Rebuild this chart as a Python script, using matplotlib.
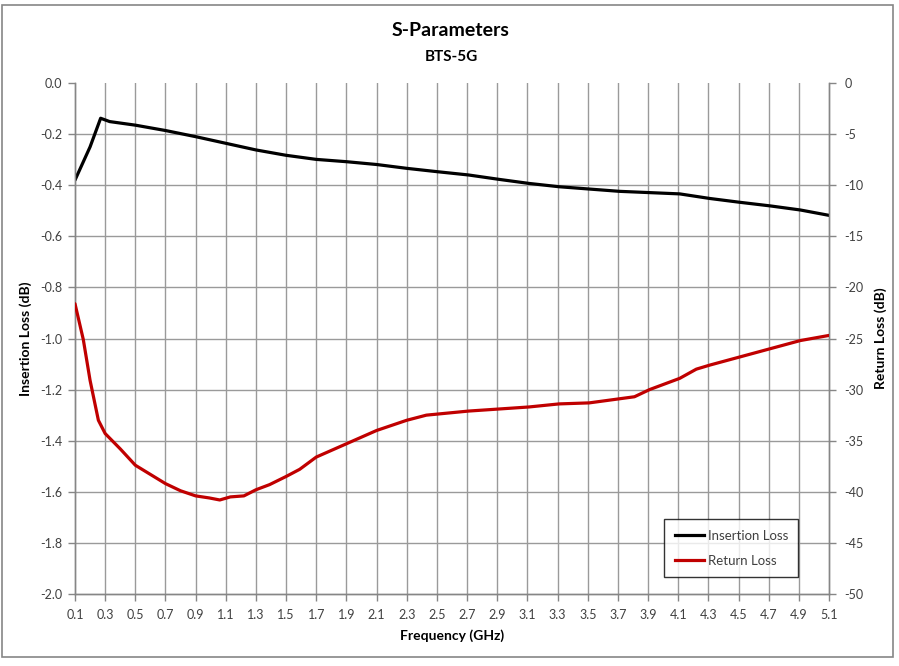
import matplotlib
matplotlib.use("Agg")
import matplotlib.pyplot as plt
from matplotlib.patches import Rectangle
from matplotlib.lines import Line2D
import numpy as np

plt.rcParams['font.family'] = ['Lato', 'DejaVu Sans']
plt.rcParams['axes.unicode_minus'] = False

# Insertion loss (left axis, dB)
il_freq = [0.10, 0.20, 0.27, 0.33, 0.50, 0.70, 0.90, 1.10, 1.30, 1.50, 1.70, 1.90,
           2.10, 2.30, 2.50, 2.71, 2.91, 3.11, 3.31, 3.51, 3.71, 3.91, 4.11, 4.31,
           4.51, 4.71, 4.91, 5.10]
il_vals = [-0.380, -0.250, -0.138, -0.151, -0.165, -0.186, -0.210, -0.236, -0.262,
           -0.283, -0.299, -0.308, -0.319, -0.334, -0.347, -0.360, -0.377, -0.393,
           -0.406, -0.415, -0.424, -0.429, -0.434, -0.452, -0.467, -0.481, -0.497,
           -0.518]

# Return loss (right axis, dB)
rl_freq = [0.10, 0.155, 0.20, 0.255, 0.30, 0.40, 0.50, 0.60, 0.70, 0.80, 0.90, 0.99,
           1.06, 1.13, 1.22, 1.30, 1.39, 1.50, 1.59, 1.70, 1.90, 2.10, 2.30, 2.43,
           2.50, 2.71, 2.91, 3.11, 3.31, 3.51, 3.71, 3.81, 3.91, 4.11, 4.22, 4.31,
           4.51, 4.71, 4.91, 5.10]
rl_vals = [-21.6, -25.1, -29.1, -33.0, -34.3, -35.8, -37.4, -38.3, -39.2, -39.9, -40.4,
           -40.6, -40.8, -40.5, -40.4, -39.8, -39.3, -38.5, -37.8, -36.6, -35.3, -34.0,
           -33.0, -32.5, -32.4, -32.1, -31.9, -31.7, -31.4, -31.3, -30.9, -30.7, -30.0,
           -28.9, -28.0, -27.6, -26.8, -26.0, -25.2, -24.7]

x_ticks = [round(0.1 + 0.2 * i, 1) for i in range(26)]
left_ticks = [round(-0.2 * i, 1) for i in range(11)]
right_ticks = [-5 * i for i in range(11)]

title = "S-Parameters"
subtitle = "BTS-5G"

W, H = 899, 666
fig = plt.figure(figsize=(W / 100, H / 100), dpi=100)
fig.patches.append(Rectangle((2 / W, 1 - 657 / H), 891 / W, 652 / H,
                             transform=fig.transFigure, fill=False,
                             edgecolor='#868686', linewidth=1.2))

ax = fig.add_axes([75 / W, 1 - 594 / H, 754 / W, 511 / H])
ax2 = ax.twinx()

grid_c = '#9a9a9a'
axis_c = '#868686'
lab_c = '#404040'

ax.set_xlim(0.1, 5.1)
ax.set_ylim(-2.0, 0.0)
ax2.set_ylim(-50, 0)

for xv in x_ticks[1:-1]:
    ax.axvline(xv, color=grid_c, lw=1.0, zorder=0)
for yv in left_ticks[1:-1]:
    ax.axhline(yv, color=grid_c, lw=1.0, zorder=0)


def fmt1(v):
    s = f"{v:.1f}"
    return "0.0" if s == "-0.0" else s


ax.set_xticks(x_ticks)
ax.set_xticklabels([f"{v:.1f}" for v in x_ticks])
ax.set_yticks(left_ticks)
ax.set_yticklabels([fmt1(v) for v in left_ticks])
ax2.set_yticks(right_ticks)
ax2.set_yticklabels([str(v) for v in right_ticks])

for a in (ax, ax2):
    a.spines['top'].set_visible(False)
    for s in ('left', 'right', 'bottom'):
        a.spines[s].set_color(axis_c)
        a.spines[s].set_linewidth(1.0)
    a.tick_params(direction='out', length=5, width=1.0, color=axis_c,
                  labelsize=9, labelcolor=lab_c)
ax.tick_params(axis='x', pad=6)
ax.tick_params(axis='y', pad=4)
ax2.tick_params(axis='y', pad=6)

ax.plot(il_freq, il_vals, color='black', lw=2.3, zorder=3,
        solid_joinstyle='round', solid_capstyle='round')
ax2.plot(rl_freq, rl_vals, color='#C00000', lw=2.3, zorder=3,
         solid_joinstyle='round', solid_capstyle='round')

ax.set_xlabel("Frequency (GHz)", fontsize=10, fontweight='bold', labelpad=6)
ax.set_ylabel("Insertion Loss (dB)", fontsize=10, fontweight='bold', labelpad=6)
ax2.set_ylabel("Return Loss (dB)", fontsize=10, fontweight='bold', labelpad=8)

fig.text(451 / W, 1 - 31 / H, title, ha='center', va='center',
         fontsize=14, fontweight='bold')
fig.text(451 / W, 1 - 57 / H, subtitle, ha='center', va='center',
         fontsize=11, fontweight='bold')

handles = [Line2D([0], [0], color='black', lw=2.3),
           Line2D([0], [0], color='#C00000', lw=2.3)]
leg = ax2.legend(handles, ["Insertion Loss", "Return Loss"],
                 loc='upper left', bbox_to_anchor=((664 - 75) / 754, (594 - 519) / 511),
                 frameon=True, fancybox=False, edgecolor='black', fontsize=9.5,
                 handlelength=2.2, handletextpad=0.3, labelspacing=1.0,
                 borderpad=0.8, borderaxespad=0)
leg.get_frame().set_linewidth(1.0)
for t in leg.get_texts():
    t.set_color(lab_c)

fig.savefig("out.png", dpi=100)
